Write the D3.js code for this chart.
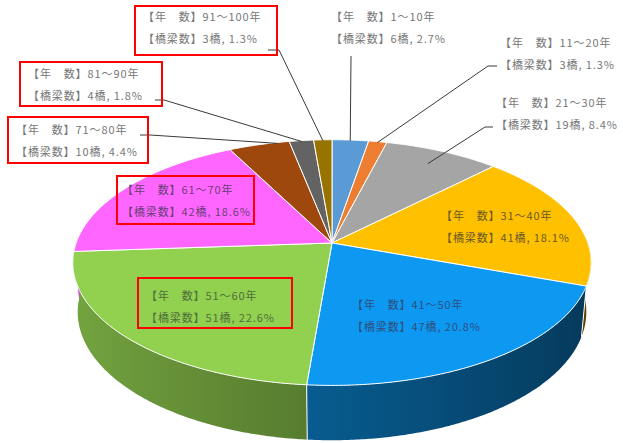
<!DOCTYPE html>
<html>
<head>
<meta charset="utf-8">
<script src="https://cdn.jsdelivr.net/npm/d3@7"></script>
<style>
  html, body { margin: 0; padding: 0; background: #fff; }
  svg { display: block; }
  text { font-family: "Noto Sans CJK JP", "Noto Sans", sans-serif; }
</style>
</head>
<body>
<svg id="chart" width="623" height="443"></svg>
<script>
// Bridge age bands (years since construction) and bridge counts per band
const categories = ["1～10年", "11～20年", "21～30年", "31～40年", "41～50年",
                    "51～60年", "61～70年", "71～80年", "81～90年", "91～100年"];
const counts = [6, 3, 19, 41, 47, 51, 42, 10, 4, 3];
const colors = ["#5B9BD5", "#ED7D31", "#A5A5A5", "#FFC000", "#0D99F2",
                "#92D050", "#FF66FF", "#9E480E", "#636363", "#997300"];
const labelColors = ["#777", "#777", "#777", "#6b5a2a", "#2f4f80",
                     "#4f6f3a", "#6a3f78", "#777", "#777", "#777"];

// Label placement: text origin, optional red frame, optional leader line
const labelLayout = [
  { x: 331, y: 21, leader: [[351, 56], [351, 56]] },
  { x: 500, y: 47, leader: [[497, 66], [488, 66]] },
  { x: 496, y: 107, leader: [[493, 127], [485, 127]], anchor: 0.85 },
  { x: 441, y: 220 },
  { x: 352, y: 309 },
  { x: 146, y: 300, box: [138, 278, 154, 50] },
  { x: 122, y: 194, box: [117, 176, 137, 48] },
  { x: 16, y: 134, box: [8, 117, 140, 46], leader: [[140, 135], [150, 135]], anchorAt: 0.8 },
  { x: 28, y: 78, box: [20, 62, 142, 44], leader: [[155, 100], [164, 100]] },
  { x: 143, y: 21, box: [135, 6, 142, 49], leader: [[268, 50], [279, 50]] }
];

const svg = d3.select("#chart");
const defs = svg.append("defs");
const total = d3.sum(counts);
const pctFmt = d3.format(".1f");

// Perspective camera for a tilted disk (unit radius, thickness t)
const cam = { cx: 332, cy: 243, f: 1420, D: 5.55, tilt: 27.9 * Math.PI / 180, t: 0.22 };
const sa = Math.sin(cam.tilt), ca = Math.cos(cam.tilt);
function project(theta, r, yw) {
  const x = r * Math.sin(theta), z = r * Math.cos(theta);
  const Y = yw * ca + z * sa;
  const Z = cam.D + z * ca - yw * sa;
  return [cam.cx + cam.f * x / Z, cam.cy - cam.f * Y / Z];
}

const pie = d3.pie().sort(null).value(d => d).startAngle(0).endAngle(2 * Math.PI);
const arcs = pie(counts);

const step = Math.PI / 360;
// Side-wall brightness: lit from the left, darker towards the right
const shade = d3.scaleLinear().domain([-1, 1]).range([0.8, 0.36]);
function sideColor(i, th) {
  const base = d3.rgb(colors[i]);
  const k = shade(Math.sin(th));
  return d3.rgb(base.r * k, base.g * k, base.b * k).formatHex();
}

// Side wall: one shaded band per slice over the visible front half
const sideG = svg.append("g");
const visLo = Math.PI / 2 - 0.05, visHi = 3 * Math.PI / 2 + 0.05;
arcs.forEach((a, i) => {
  const lo = Math.max(a.startAngle, visLo), hi = Math.min(a.endAngle, visHi);
  if (hi <= lo) return;
  const n = Math.max(2, Math.ceil((hi - lo) / step));
  const ths = d3.range(n + 1).map(j => lo + (hi - lo) * j / n);
  const topPts = ths.map(th => project(th, 1, 0));
  const botPts = ths.map(th => project(th, 1, -cam.t)).reverse();
  const xs = topPts.map(p => p[0]);
  const xmin = d3.min(xs), xmax = d3.max(xs);
  const g = defs.append("linearGradient")
    .attr("id", "side" + i)
    .attr("gradientUnits", "userSpaceOnUse")
    .attr("x1", xmin).attr("x2", xmax).attr("y1", 0).attr("y2", 0);
  const stops = ths.map((th, j) => ({
    o: xmax > xmin ? (xs[j] - xmin) / (xmax - xmin) : 0,
    c: sideColor(i, th)
  })).sort((p, q) => p.o - q.o);
  stops.filter((s, j) => j % 4 === 0 || j === stops.length - 1).forEach(s => {
    g.append("stop").attr("offset", s.o).attr("stop-color", s.c);
  });
  sideG.append("path")
    .attr("d", d3.line()(topPts.concat(botPts)) + "Z")
    .attr("fill", "url(#side" + i + ")");
});

// Slice boundaries on the side wall
arcs.forEach(a => {
  const th = a.startAngle;
  if (Math.cos(th) > 0) return;
  const p1 = project(th, 1, 0), p2 = project(th, 1, -cam.t);
  sideG.append("line")
    .attr("x1", p1[0]).attr("y1", p1[1]).attr("x2", p2[0]).attr("y2", p2[1])
    .attr("stroke", "#fff").attr("stroke-width", 1);
});

// Top face slices
const topG = svg.append("g");
arcs.forEach((a, i) => {
  const pts = [project(0, 0, 0)];
  const n = Math.max(2, Math.ceil((a.endAngle - a.startAngle) / step));
  for (let j = 0; j <= n; j++) {
    const th = a.startAngle + (a.endAngle - a.startAngle) * j / n;
    pts.push(project(th, 1, 0));
  }
  topG.append("path")
    .attr("d", d3.line()(pts) + "Z")
    .attr("fill", colors[i])
    .attr("stroke", "#fff")
    .attr("stroke-width", 1)
    .attr("stroke-linejoin", "round");
});

// Labels, frames and leader lines
const labG = svg.append("g");
arcs.forEach((a, i) => {
  const L = labelLayout[i];
  if (L.leader) {
    const fr = L.anchorAt !== undefined ? L.anchorAt : 0.5;
    const th = a.startAngle + (a.endAngle - a.startAngle) * fr;
    const end = project(th, L.anchor || 0.99, 0);
    labG.append("path")
      .attr("d", d3.line()([L.leader[0], L.leader[1], end]))
      .attr("fill", "none")
      .attr("stroke", "#3a3a3a")
      .attr("stroke-width", 1);
  }
  if (L.box) {
    labG.append("rect")
      .attr("x", L.box[0]).attr("y", L.box[1])
      .attr("width", L.box[2]).attr("height", L.box[3])
      .attr("fill", "none")
      .attr("stroke", "#FF0000")
      .attr("stroke-width", 2);
  }
  const t = labG.append("text")
    .attr("x", L.x).attr("y", L.y)
    .attr("font-size", 11)
    .attr("letter-spacing", 0.9)
    .attr("fill", labelColors[i]);
  t.append("tspan").attr("x", L.x).attr("dy", 0)
    .text("【年　数】" + categories[i]);
  t.append("tspan").attr("x", L.x).attr("dy", 22)
    .text("【橋梁数】" + counts[i] + "橋, " + pctFmt(counts[i] / total * 100) + "%");
});
</script>
</body>
</html>
